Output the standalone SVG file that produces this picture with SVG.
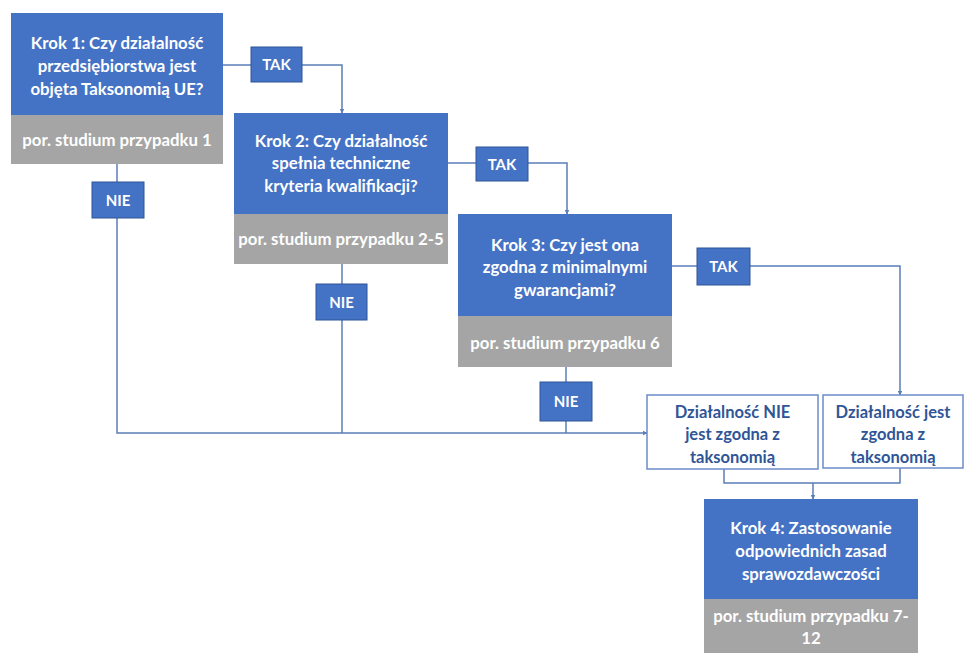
<svg xmlns="http://www.w3.org/2000/svg" width="968" height="655" viewBox="0 0 968 655">
<defs>
<marker id="arr" viewBox="0 0 10 10" refX="9" refY="5" markerWidth="5" markerHeight="5" orient="auto" markerUnits="userSpaceOnUse">
<path d="M0,0 L10,5 L0,10 z" fill="#5B7DB8"/>
</marker>
<style>
.step{fill:#4472C4}
.ref{fill:#A5A5A5}
.lbl{fill:#4472C4;stroke:#2F5597;stroke-width:1}
.out{fill:#fff;stroke:#6C8CC8;stroke-width:1.5}
.wt{font-family:Lato,"Liberation Sans",sans-serif;font-weight:700;font-size:16.8px;fill:#fff;text-anchor:middle}
.lt{font-family:Lato,"Liberation Sans",sans-serif;font-weight:700;font-size:15px;fill:#fff;text-anchor:middle}
.bt{font-family:Lato,"Liberation Sans",sans-serif;font-weight:700;font-size:16.5px;fill:#2F5597;text-anchor:middle}
.con{fill:none;stroke:#5B7DB8;stroke-width:1.5}
</style>
</defs>
<rect width="968" height="655" fill="#fff"/>
<g id="connectors">
<path class="con" d="M223,65 H251"/>
<path class="con" d="M302,65 H342 V113" marker-end="url(#arr)"/>
<path class="con" d="M448,163 H476"/>
<path class="con" d="M528,163 H567 V214" marker-end="url(#arr)"/>
<path class="con" d="M672,266 H697"/>
<path class="con" d="M750,266 H900 V395" marker-end="url(#arr)"/>
<path class="con" d="M117,164 V182"/>
<path class="con" d="M117,218 V433 H647" marker-end="url(#arr)"/>
<path class="con" d="M342,264 V284"/>
<path class="con" d="M342,320 V433"/>
<path class="con" d="M566,367 V382"/>
<path class="con" d="M566,421 V433"/>
<path class="con" d="M724,469 V483 H900 V468"/>
<path class="con" d="M813,483 V499" marker-end="url(#arr)"/>
</g>
<g id="step1">
<rect class="step" x="11" y="13" width="212" height="102"/>
<rect class="ref" x="11" y="115" width="212" height="49"/>
<text class="wt" x="117" y="49">Krok 1: Czy działalność</text>
<text class="wt" x="117" y="72">przedsiębiorstwa jest</text>
<text class="wt" x="117" y="95">objęta Taksonomią UE?</text>
<text class="wt" x="117" y="146">por. studium przypadku 1</text>
</g>
<g id="tak1">
<rect class="lbl" x="251" y="47" width="51" height="35"/>
<text class="lt" x="276.5" y="70">TAK</text>
</g>
<g id="nie1">
<rect class="lbl" x="92" y="182" width="52" height="36"/>
<text class="lt" x="118" y="205.5">NIE</text>
</g>
<g id="step2">
<rect class="step" x="234" y="113" width="214" height="101"/>
<rect class="ref" x="234" y="214" width="214" height="50"/>
<text class="wt" x="341" y="147">Krok 2: Czy działalność</text>
<text class="wt" x="341" y="169">spełnia techniczne</text>
<text class="wt" x="341" y="192">kryteria kwalifikacji?</text>
<text class="wt" x="341" y="245">por. studium przypadku 2-5</text>
</g>
<g id="tak2">
<rect class="lbl" x="476" y="147" width="52" height="34"/>
<text class="lt" x="502" y="169.5">TAK</text>
</g>
<g id="nie2">
<rect class="lbl" x="316" y="284" width="51" height="36"/>
<text class="lt" x="341.5" y="307.5">NIE</text>
</g>
<g id="step3">
<rect class="step" x="458" y="214" width="214" height="102"/>
<rect class="ref" x="458" y="316" width="214" height="51"/>
<text class="wt" x="565" y="251">Krok 3: Czy jest ona</text>
<text class="wt" x="565" y="273">zgodna z minimalnymi</text>
<text class="wt" x="565" y="296">gwarancjami?</text>
<text class="wt" x="565" y="349">por. studium przypadku 6</text>
</g>
<g id="tak3">
<rect class="lbl" x="697" y="248" width="53" height="37"/>
<text class="lt" x="723.5" y="272">TAK</text>
</g>
<g id="nie3">
<rect class="lbl" x="540" y="382" width="52" height="39"/>
<text class="lt" x="566" y="407">NIE</text>
</g>
<g id="notAligned">
<rect class="out" x="647" y="395" width="171" height="74"/>
<text class="bt" x="732.5" y="418">Działalność NIE</text>
<text class="bt" x="732.5" y="440">jest zgodna z</text>
<text class="bt" x="732.5" y="463">taksonomią</text>
</g>
<g id="aligned">
<rect class="out" x="823" y="395" width="140" height="73"/>
<text class="bt" x="893" y="418">Działalność jest</text>
<text class="bt" x="893" y="440">zgodna z</text>
<text class="bt" x="893" y="463">taksonomią</text>
</g>
<g id="step4">
<rect class="step" x="704" y="499" width="214" height="100"/>
<rect class="ref" x="704" y="599" width="214" height="54"/>
<text class="wt" x="811" y="534">Krok 4: Zastosowanie</text>
<text class="wt" x="811" y="557">odpowiednich zasad</text>
<text class="wt" x="811" y="580">sprawozdawczości</text>
<text class="wt" x="811" y="622">por. studium przypadku 7-</text>
<text class="wt" x="811" y="644">12</text>
</g>
</svg>
